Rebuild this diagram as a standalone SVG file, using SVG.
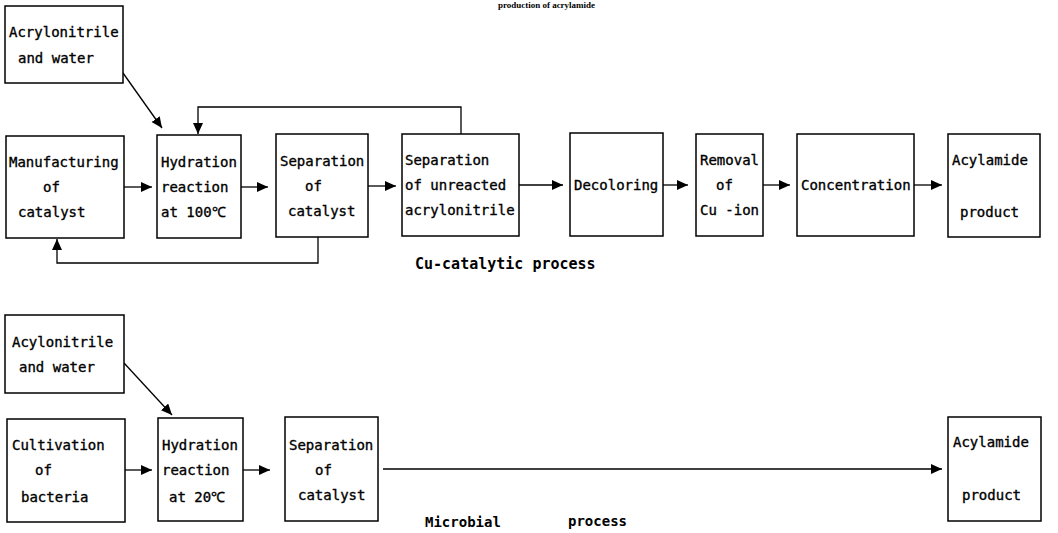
<svg xmlns="http://www.w3.org/2000/svg" width="1058" height="533" viewBox="0 0 1058 533">
<style>
.box{fill:#fff;stroke:#000;stroke-width:1.5}
.t{font-family:"DejaVu Sans Mono","Liberation Mono",monospace;font-size:14px;fill:#000;stroke:#000;stroke-width:0.35}
.cap{font-family:"DejaVu Sans Mono","Liberation Mono",monospace;font-size:14px;font-weight:bold;fill:#000}
.ttl{font-family:"Liberation Serif",serif;font-size:9px;font-weight:bold;fill:#000}
.c{fill:none;stroke:#000;stroke-width:1.3}
</style>
<defs>
<marker id="ah" markerUnits="userSpaceOnUse" markerWidth="12" markerHeight="11" refX="11" refY="5" orient="auto">
<path d="M0,0 L11,5 L0,10 z" fill="#000"/>
</marker>
</defs>
<rect width="1058" height="533" fill="#fff"/>
<text class="ttl" x="498" y="8" textLength="97" lengthAdjust="spacingAndGlyphs">production of acrylamide</text>

<g id="connectors">
<path class="c" d="M124,187 H152" marker-end="url(#ah)"/>
<path class="c" d="M241,187 H268" marker-end="url(#ah)"/>
<path class="c" d="M368,186 H396" marker-end="url(#ah)"/>
<path class="c" d="M519,185 H563" marker-end="url(#ah)"/>
<path class="c" d="M663,185 H688" marker-end="url(#ah)"/>
<path class="c" d="M763,185 H790" marker-end="url(#ah)"/>
<path class="c" d="M914,185 H942" marker-end="url(#ah)"/>
<path class="c" d="M123,73 L162,128" marker-end="url(#ah)"/>
<path class="c" d="M461,134 V107 H198 V134" marker-end="url(#ah)"/>
<path class="c" d="M318,237 V263 H57 V239" marker-end="url(#ah)"/>
<path class="c" d="M124,363 L172,415" marker-end="url(#ah)"/>
<path class="c" d="M125,470 H152" marker-end="url(#ah)"/>
<path class="c" d="M243,470 H270" marker-end="url(#ah)"/>
<path class="c" d="M383,469 H942" marker-end="url(#ah)"/>
</g>

<g id="acrylonitrile-water-1">
<rect class="box" x="5" y="6" width="118" height="77"/>
<text class="t" x="9" y="37">Acrylonitrile</text>
<text class="t" x="18" y="63">and water</text>
</g>
<g id="manufacturing-catalyst">
<rect class="box" x="6" y="136" width="118" height="102"/>
<text class="t" x="9" y="167">Manufacturing</text>
<text class="t" x="43" y="192">of</text>
<text class="t" x="18" y="217">catalyst</text>
</g>
<g id="hydration-100">
<rect class="box" x="157" y="135" width="84" height="103"/>
<text class="t" x="161" y="167">Hydration</text>
<text class="t" x="161" y="192">reaction</text>
<text class="t" x="161" y="217">at 100℃</text>
</g>
<g id="separation-catalyst-1">
<rect class="box" x="276" y="134" width="92" height="103"/>
<text class="t" x="280" y="166">Separation</text>
<text class="t" x="305" y="191">of</text>
<text class="t" x="288" y="216">catalyst</text>
</g>
<g id="separation-unreacted">
<rect class="box" x="402" y="134" width="117" height="102"/>
<text class="t" x="405" y="165">Separation</text>
<text class="t" x="405" y="190">of unreacted</text>
<text class="t" x="405" y="215">acrylonitrile</text>
</g>
<g id="decoloring">
<rect class="box" x="570" y="133" width="93" height="103"/>
<text class="t" x="574" y="190">Decoloring</text>
</g>
<g id="removal-cu">
<rect class="box" x="696" y="134" width="67" height="102"/>
<text class="t" x="700" y="165">Removal</text>
<text class="t" x="716" y="190">of</text>
<text class="t" x="700" y="215">Cu -ion</text>
</g>
<g id="concentration">
<rect class="box" x="797" y="134" width="117" height="102"/>
<text class="t" x="801" y="190">Concentration</text>
</g>
<g id="acylamide-product-1">
<rect class="box" x="948" y="134" width="92" height="103"/>
<text class="t" x="952" y="165">Acylamide</text>
<text class="t" x="960" y="217">product</text>
</g>
<text class="cap" x="415" y="269" style="font-size:15px">Cu-catalytic process</text>

<g id="acylonitrile-water-2">
<rect class="box" x="5" y="315" width="119" height="78"/>
<text class="t" x="12" y="347">Acylonitrile</text>
<text class="t" x="19" y="372">and water</text>
</g>
<g id="cultivation-bacteria">
<rect class="box" x="7" y="419" width="118" height="103"/>
<text class="t" x="12" y="450">Cultivation</text>
<text class="t" x="35" y="475">of</text>
<text class="t" x="21" y="502">bacteria</text>
</g>
<g id="hydration-20">
<rect class="box" x="158" y="418" width="85" height="103"/>
<text class="t" x="162" y="450">Hydration</text>
<text class="t" x="162" y="475">reaction</text>
<text class="t" x="169" y="502">at 20℃</text>
</g>
<g id="separation-catalyst-2">
<rect class="box" x="285" y="417" width="93" height="104"/>
<text class="t" x="289" y="450">Separation</text>
<text class="t" x="315" y="475">of</text>
<text class="t" x="298" y="500">catalyst</text>
</g>
<g id="acylamide-product-2">
<rect class="box" x="948" y="417" width="93" height="104"/>
<text class="t" x="953" y="447">Acylamide</text>
<text class="t" x="962" y="500">product</text>
</g>
<text class="cap" x="425" y="527">Microbial</text>
<text class="cap" x="568" y="526">process</text>
</svg>
